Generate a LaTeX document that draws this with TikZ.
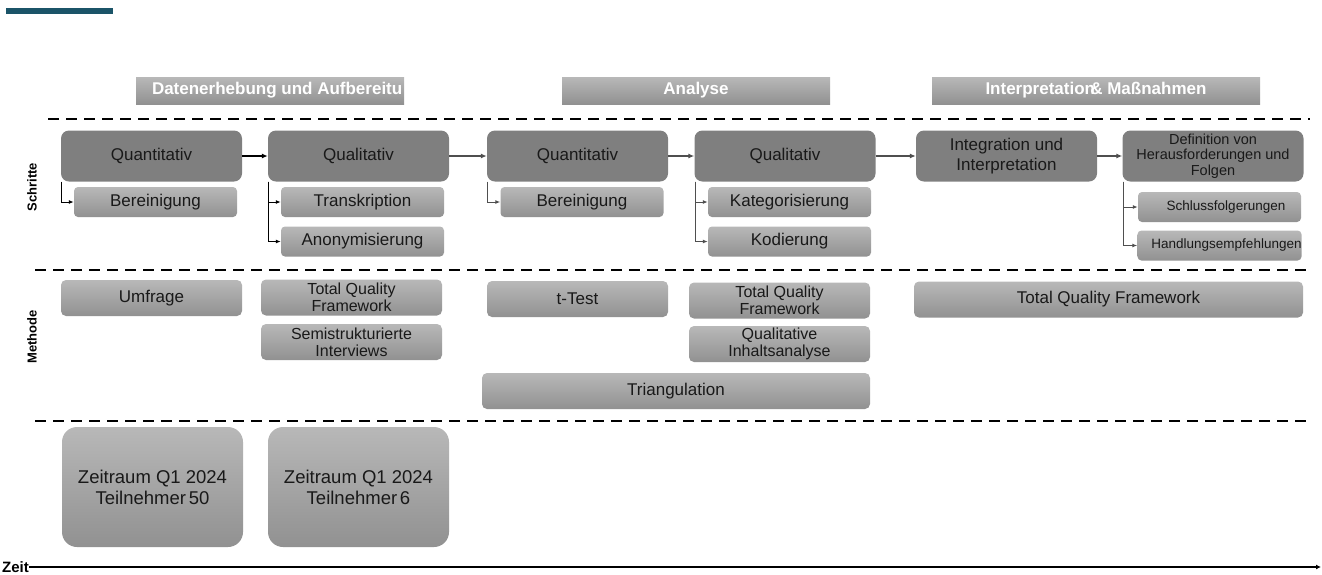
\documentclass[tikz,border=0pt]{standalone}
\usepackage{fontspec}
\setmainfont{Liberation Sans}
\usetikzlibrary{arrows.meta}
\definecolor{tealbar}{HTML}{1B5468}
\definecolor{stepgray}{HTML}{7F7F7F}
\definecolor{boxtop}{HTML}{B8B8B8}
\definecolor{boxbot}{HTML}{919191}
\definecolor{arrowgray}{HTML}{4F4F4F}
\newcommand{\fsz}[2]{\fontsize{#1}{#2}\selectfont}
\tikzstyle{phase} = [rectangle,top color=boxtop,bottom color=boxbot,text=white,font=\fsz{17}{20}\bfseries,minimum height=27pt,inner sep=0pt]
\tikzstyle{main} = [rectangle,rounded corners=8pt,fill=stepgray,text=black!90,font=\fsz{17}{20},minimum width=181pt,minimum height=51pt,align=center,inner sep=0pt]
\tikzstyle{sub} = [rectangle,rounded corners=4pt,top color=boxtop,bottom color=boxbot,text=black!90,font=\fsz{17}{20},minimum width=163pt,minimum height=30pt,align=center,inner sep=0pt]
\tikzstyle{meth} = [rectangle,rounded corners=5pt,top color=boxtop,bottom color=boxbot,text=black!90,font=\fsz{17}{18},minimum width=181pt,minimum height=36pt,align=center,inner sep=0pt]
\tikzstyle{period} = [rectangle,rounded corners=15pt,top color=boxtop,bottom color=boxbot,text=black!90,font=\fsz{18.5}{21},minimum width=181pt,minimum height=120pt,align=center,inner sep=0pt]
\tikzstyle{side} = [font=\fsz{13}{15}\bfseries,inner sep=0pt]
\tikzstyle{sep} = [draw,line width=2pt,dash pattern=on 11pt off 7pt]
\tikzstyle{flow} = [draw,-{Latex[length=6pt,width=5pt]},line width=2.5pt,arrowgray]
\tikzstyle{flowb} = [draw,-{Latex[length=6pt,width=5pt]},line width=1.2pt,black]
\tikzstyle{branch} = [draw,-{Latex[length=5pt,width=4pt]},line width=1pt,arrowgray]
\tikzstyle{branchb} = [draw,-{Latex[length=5pt,width=4pt]},line width=1pt,black]

\begin{document}
\begin{tikzpicture}[x=1pt,y=-1pt]
    \useasboundingbox (0,0) rectangle (1322,574);
    \fill[tealbar] (6,8) rectangle (113,14);

    % phases
    \node[phase,minimum width=268pt] (ph1) at (270,90.5) {\makebox[236pt][l]{Datenerhebung und Aufbereitu}};
    \node[phase,minimum width=268pt] (ph2) at (696,90.5) {Analyse};
    \node[phase,minimum width=328pt] (ph3) at (1096,90.5) {Interpretation\kern-.28em\& Maßnahmen};

    % separators
    \draw[sep] (48,119) -- (1310,119);
    \draw[sep] (35,270) -- (1310,270);
    \draw[sep] (35,421) -- (1310,421);

    \node[side,rotate=90] (schritte) at (32,187) {Schritte};
    \node[side,rotate=90] (methode) at (32,337) {Methode};

    % steps
    \node[main] (q1) at (151.5,156) {Quantitativ};
    \node[main] (q2) at (358.5,156) {Qualitativ};
    \node[main] (q3) at (577.5,156) {Quantitativ};
    \node[main] (q4) at (785,156) {Qualitativ};
    \node[main] (integ) at (1006.5,156) {Integration und\\Interpretation};
    \node[main,font=\fsz{14.5}{15.5}] (defin) at (1213,156) {Definition von\\Herausforderungen und\\Folgen};

    \node[sub] (ber1) at (155.5,202) {Bereinigung};
    \node[sub] (trans) at (362.5,202) {Transkription};
    \node[sub] (anon) at (362.5,241.5) {Anonymisierung};
    \node[sub] (ber2) at (582,202) {Bereinigung};
    \node[sub] (kat) at (789.5,202) {Kategorisierung};
    \node[sub] (kod) at (789.5,241.5) {Kodierung};
    \node[sub,font=\fsz{13.5}{15}] (schluss) at (1219.5,207) {\hspace*{13pt}Schlussfolgerungen};
    \node[sub,font=\fsz{13.5}{15}] (hand) at (1219.5,245.5) {\hspace*{14pt}Handlungsempfehlungen};

    \draw[flowb] (q1) -- (q2);
    \draw[flow] (q2) -- (q3);
    \draw[flow] (q3) -- (q4);
    \draw[flow] (q4) -- (integ);
    \draw[flow] (integ) -- (defin);

    \draw[branchb] ([xshift=1pt]q1.south west) |- (ber1.west);
    \draw[branchb] ([xshift=1pt]q2.south west) |- (trans.west);
    \draw[branchb] ([xshift=1pt]q2.south west) |- (anon.west);
    \draw[branch] ([xshift=1pt]q3.south west) |- (ber2.west);
    \draw[branch] ([xshift=1pt]q4.south west) |- (kat.west);
    \draw[branch] ([xshift=1pt]q4.south west) |- (kod.west);
    \draw[branch] ([xshift=1pt]defin.south west) |- (schluss.west);
    \draw[branch] ([xshift=1pt]defin.south west) |- (hand.west);

    % methods
    \node[meth] (umf) at (151.5,298) {Umfrage};
    \node[meth,font=\fsz{16}{17}] (tqf1) at (351.5,297.5) {Total Quality\\Framework};
    \node[meth,font=\fsz{16}{17}] (semi) at (351.5,342) {Semistrukturierte\\Interviews};
    \node[meth] (ttest) at (577.5,299) {t-Test};
    \node[meth,font=\fsz{16}{17}] (tqf2) at (779.5,300.5) {Total Quality\\Framework};
    \node[meth,font=\fsz{16}{17}] (qia) at (779.5,344) {Qualitative\\Inhaltsanalyse};
    \node[meth,minimum width=388pt] (tri) at (676,391) {Triangulation};
    \node[meth,minimum width=389pt] (tqf3) at (1108.5,299.5) {Total Quality Framework};

    % time
    \node[period] (zr1) at (152.5,487) {Zeitraum Q1 2024\\Teilnehmer\kern.15em 50};
    \node[period] (zr2) at (358.5,487) {Zeitraum Q1 2024\\Teilnehmer\kern.15em 6};

    \node[side,font=\fsz{15}{17}\bfseries,anchor=west] (zeit) at (2,567) {Zeit};
    \coordinate (tend) at (1321,567);
    \draw[-{Latex[length=5pt,width=5pt]},line width=2.2pt] (zeit) -- (tend);

\end{tikzpicture}
\end{document}
